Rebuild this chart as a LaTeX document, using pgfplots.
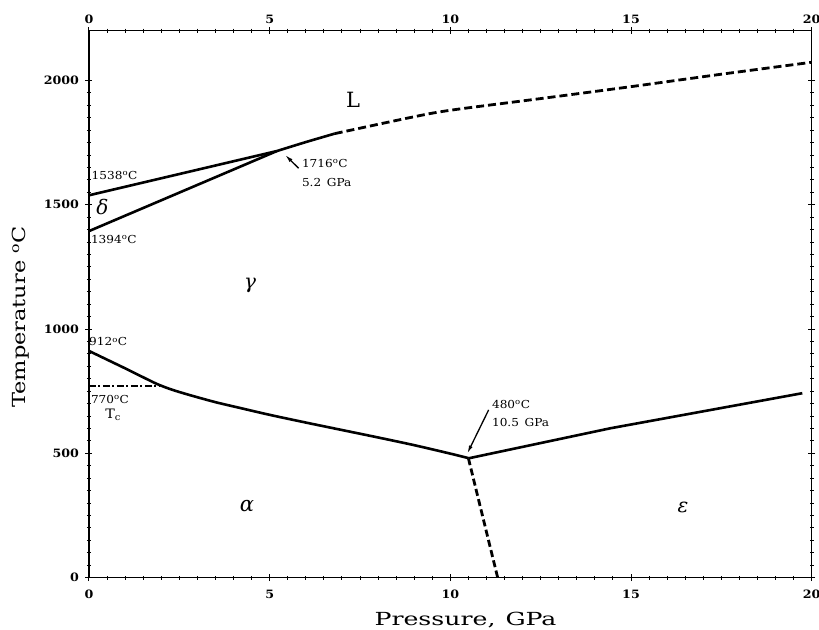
\documentclass[border=0pt]{standalone}
\usepackage{fontspec}
\setmainfont{DejaVu Serif}
\newfontfamily\labfont[FakeStretch=1.25]{DejaVu Serif}
\newfontfamily\xlabfont[FakeStretch=1.4]{DejaVu Serif}
\newfontfamily\annfont[FakeStretch=1.1]{DejaVu Serif}
\usepackage{pgfplots}
\pgfplotsset{compat=1.18}
\usetikzlibrary{arrows.meta}
\begin{document}
\begin{tikzpicture}
\pgfplotsset{
  feaxis/.style={
    at={(0,0)}, anchor=south west,
    width=722.7pt, height=547pt, scale only axis,
    xmin=0, xmax=20, ymin=0, ymax=2200,
    xtick={0,5,10,15,20}, ytick={0,500,1000,1500,2000},
    minor x tick num=9, minor y tick num=9,
    tick align=center,
    major tick length=7pt, minor tick length=4pt,
    /pgf/number format/assume math mode=true,
    /pgf/number format/1000 sep={},
    ticklabel style={font=\annfont\fontsize{11.5}{13}\selectfont\bfseries},
  }
}
\begin{axis}[feaxis, name=ax,
  axis line style={line width=1.3pt},
  every tick/.style={black, line width=1pt},
  yticklabel style={xshift=-3pt},
  xticklabel style={yshift=-5pt},
  xlabel={\xlabfont\fontsize{18}{20}\selectfont Pressure,\hspace{10pt}GPa},
  ylabel={\labfont\fontsize{18}{20}\selectfont Temperature \textsuperscript{o}C},
  xlabel style={at={(axis description cs:0.521,0)}, anchor=base, yshift=-47.3pt},
  ylabel style={at={(axis description cs:0,0.4766)}, anchor=base, yshift=63.5pt},
]
% delta / L
\addplot[black, line width=2.6pt] coordinates {(0,1538) (5.2,1716)};
% delta / gamma
\addplot[black, line width=2.6pt] coordinates {(0,1394) (5.2,1716)};
% gamma / L solid
\addplot[black, line width=2.6pt, smooth] coordinates {(5.2,1716) (6.0,1752) (6.8,1786)};
% gamma / L dashed
\addplot[black, line width=2.8pt, smooth, dash pattern=on 8pt off 4pt] coordinates {(6.8,1786) (8.9,1851) (10,1880) (12.5,1927) (15,1975) (17.5,2025) (20,2073)};
% alpha / gamma
\addplot[black, line width=2.6pt, smooth, tension=0.5] coordinates {(0,912) (0.5,877) (1.0,842) (1.5,806) (1.9,778) (2.3,756) (2.8,734) (3.5,706) (4.2,682) (5,655) (6,624) (7,594) (8,564) (9,533) (10,499) (10.5,481)};
% Curie line
\addplot[black, line width=2pt, dash pattern=on 7pt off 2.5pt on 2pt off 2.5pt] coordinates {(0,770) (1.95,770)};
% gamma / epsilon
\addplot[black, line width=2.6pt] coordinates {(10.5,480) (14.43,601) (19.74,742)};
% alpha / epsilon
\addplot[black, line width=2.8pt, dash pattern=on 7pt off 3.5pt] coordinates {(10.5,480) (11.31,0)};

% region labels
\node at (axis cs:7.31,1922) {\fontsize{21}{24}\selectfont L};
\node at (axis cs:0.37,1489) {\fontsize{20}{24}\selectfont\itshape δ};
\node at (axis cs:4.46,1177) {\fontsize{20}{24}\selectfont\itshape γ};
\node at (axis cs:4.37,290) {\fontsize{21}{24}\selectfont\itshape α};
\node at (axis cs:16.44,284) {\fontsize{20}{24}\selectfont\itshape ε};

% annotations
\begin{scope}[every node/.style={anchor=west, inner sep=0pt, font=\annfont\fontsize{11}{13}\selectfont}]
\node at (axis cs:0.07,1616) {1538\textsuperscript{o}C};
\node at (axis cs:0.05,1362) {1394\textsuperscript{o}C};
\node at (axis cs:5.89,1664) {1716\textsuperscript{o}C};
\node at (axis cs:5.89,1588) {5.2\, GPa};
\node at (axis cs:0.0,948) {912\textsuperscript{o}C};
\node at (axis cs:0.05,717) {770\textsuperscript{o}C};
\node[anchor=center] at (axis cs:0.67,654) {\fontsize{13}{15}\selectfont T\textsubscript{c}};
\node at (axis cs:11.15,695) {480\textsuperscript{o}C};
\node at (axis cs:11.15,626) {10.5\, GPa};
\end{scope}
\draw[line width=1.3pt, -{Latex[length=8pt,width=4pt]}] (axis cs:5.80,1647) -- (axis cs:5.43,1700);
\draw[line width=1.3pt, -{Latex[length=8pt,width=4pt]}] (axis cs:11.06,675) -- (axis cs:10.47,500);
\end{axis}
\begin{axis}[feaxis,
  xticklabel pos=upper, ytick=\empty, minor x tick num=0,
  axis line style={draw=none}, tick style={draw=none},
]
\end{axis}
\pgfresetboundingbox
\path[use as bounding box] ([shift={(-89pt,-51.3pt)}]ax.south west) rectangle ([shift={(7.3pt,30.7pt)}]ax.north east);
\end{tikzpicture}
\end{document}
